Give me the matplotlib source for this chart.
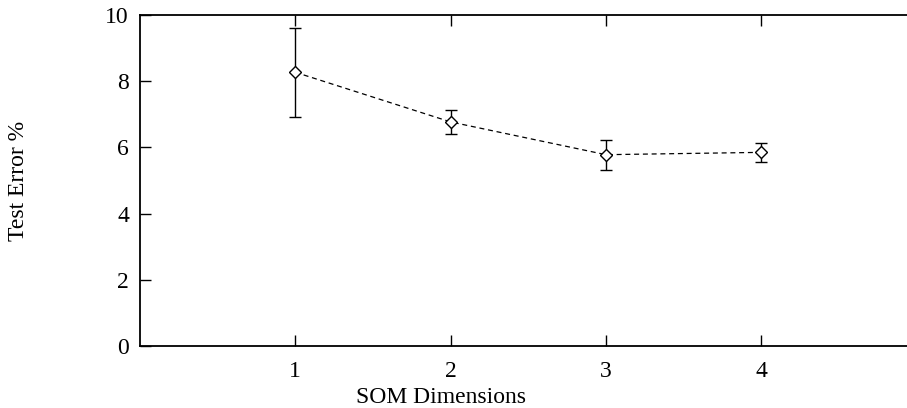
import numpy as np
import matplotlib
matplotlib.use("Agg")
import matplotlib.pyplot as plt

plt.rcParams['font.family'] = ['Liberation Serif', 'DejaVu Serif']

# SOM dimensions vs test error (mean, lower, upper)
som_dims = [1, 2, 3, 4]
err_mean = [8.27, 6.77, 5.78, 5.85]
err_low = [6.92, 6.40, 5.31, 5.57]
err_high = [9.61, 7.13, 6.22, 6.12]
yticks = [0, 2, 4, 6, 8, 10]

W, H = 907, 408
fig = plt.figure(figsize=(W / 100, H / 100), dpi=100)
# plot area: left spine at x=140px, top at 15px, bottom at 346px, runs off the right edge
ax = fig.add_axes([140 / W, (H - 346) / H, (W - 140) / W, (346 - 15) / H])

mean = np.array(err_mean)
yerr = [mean - np.array(err_low), np.array(err_high) - mean]

ax.errorbar(som_dims, err_mean, yerr=yerr, fmt='none', ecolor='black',
             elinewidth=1.0, capsize=4, capthick=1.0)
ax.plot(som_dims, err_mean, color='black', linestyle=(0, (4, 3)), linewidth=0.9,
        marker='D', markersize=6, markerfacecolor='white', markeredgecolor='black',
        markeredgewidth=1.0)

px_per_unit = 155.3
ax.set_xlim(0, (W - 140) / px_per_unit)
ax.set_ylim(0, 10)
ax.set_xticks(som_dims)
ax.set_yticks(yticks)
ax.tick_params(direction='in', length=8, width=1, labelsize=17, pad=8,
               top=True, right=False)
ax.tick_params(axis='x', pad=11)
ax.spines['right'].set_visible(False)
for s in ['left', 'top', 'bottom']:
    ax.spines[s].set_linewidth(1.3)

ax.set_xlabel('SOM Dimensions', fontsize=17)
ax.xaxis.set_label_coords((441 - 140) / (W - 140), -0.124)
ax.set_ylabel('Test Error %', fontsize=17, va='center')
ax.yaxis.set_label_coords(-(140 - 19) / (W - 140), 0.5)

fig.savefig('out.png', dpi=100)
